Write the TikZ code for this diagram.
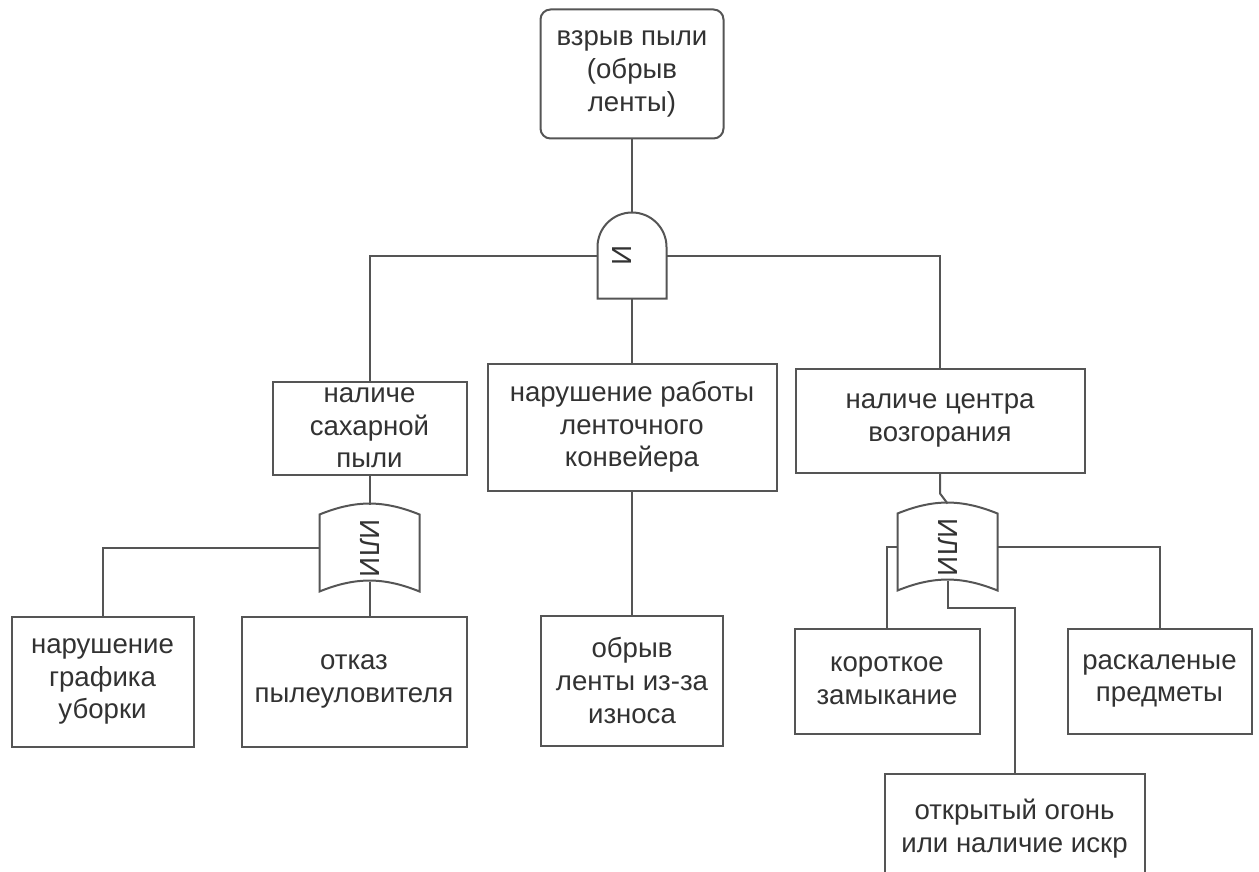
\documentclass[tikz,border=0pt]{standalone}
\usepackage{fontspec}
\setmainfont{Liberation Sans}
\usetikzlibrary{positioning}
\definecolor{linegray}{RGB}{85,85,85}
\definecolor{textgray}{RGB}{50,50,50}

\begin{document}
\begin{tikzpicture}[
    x=0.5pt, y=0.5pt,
    every node/.style={font=\fontsize{13.8}{16.3}\selectfont, text=textgray,
        align=center, inner sep=0pt, outer sep=0pt},
    topevent/.style={draw=linegray, line width=1pt, rounded corners=5pt,
        minimum width=91.5pt, minimum height=64.5pt},
    event/.style={draw=linegray, line width=1pt},
    andbox/.style={minimum width=34.5pt, minimum height=43pt},
    orbox/.style={minimum width=50pt, minimum height=43.5pt},
    gatelabel/.style={rotate=-90},
    gateline/.style={draw=linegray, line width=1pt},
    edge/.style={draw=linegray, line width=1pt}
]
\useasboundingbox (0,0) rectangle (1259,-872);
\clip (0,0) rectangle (1259,-872);

% top event and the AND gate
\node[topevent] (root) at (632,-74) {взрыв пыли\\(обрыв\\ленты)};
\node[andbox, below=37pt of root,
    label={[gatelabel, yshift=-5pt]center:И}] (andg) {};

% second level
\node[event, minimum width=144.5pt, minimum height=63.5pt, below=32.5pt of andg]
    (conv) {нарушение работы\\ленточного\\конвейера};
\node[event, minimum width=97pt, minimum height=46.5pt, left=10.5pt of conv,
    yshift=-0.5pt] (sugar) {наличе\\сахарной\\пыли};
\node[event, minimum width=144.5pt, minimum height=52pt, right=9.5pt of conv,
    yshift=3.25pt] (fire) {наличе центра\\возгорания};

% OR gates
\node[orbox, below=15pt of sugar, label={[gatelabel]center:ИЛИ}] (orA) {};
\node[orbox, below=15.5pt of fire, xshift=3.75pt,
    label={[gatelabel]center:ИЛИ}] (orB) {};

% basic events
\node[event, minimum width=112.5pt, minimum height=65pt, below=12.5pt of orA,
    xshift=-7.75pt] (filter) {отказ\\пылеуловителя};
\node[event, minimum width=91pt, minimum height=65pt, left=24pt of filter]
    (clean) {нарушение\\графика\\уборки};
\node[event, minimum width=91pt, minimum height=65pt, below=62.5pt of conv]
    (wear) {обрыв\\ленты из-за\\износа};
\node[event, minimum width=92.5pt, minimum height=52.5pt, below=19pt of orB,
    xshift=-30.25pt] (short) {короткое\\замыкание};
\node[event, minimum width=92pt, minimum height=52.5pt, right=44pt of short]
    (hot) {раскаленые\\предметы};
\node[event, minimum width=130pt, minimum height=55pt, below=20pt of short,
    xshift=63.75pt] (fire2) {открытый огонь\\или наличие искр};

% gate outlines
\draw[gateline] (andg.south west) -- ++(0,51.5)
    arc[start angle=180, end angle=0, radius=34.5] -- (andg.south east) -- cycle;
\foreach \g in {orA,orB}
    \draw[gateline] ([yshift=-5pt]\g.north west) to[bend left=22]
        ([yshift=-5pt]\g.north east) -- (\g.south east)
        to[bend right=22] (\g.south west) -- cycle;

% connectors
\draw[edge] (root) -- (andg.north);
\draw[edge] (andg.west) -| (sugar.north);
\draw[edge] (andg.east) -| (fire.north);
\draw[edge] (andg.south) -- (conv.north);
\draw[edge] (sugar) -- (orA.north);
\draw[edge] (orA.west) -| (clean.north);
\draw[edge] ([yshift=5pt]orA.south) -- (orA.south |- filter.north);
\draw[edge] (conv.south) -- (conv.south |- wear.north);
\draw[edge] (fire.south) -- ++(0,-21) -- (orB.north);
\draw[edge] (orB.west) -| (short.north);
\draw[edge] (orB.east) -| (hot.north);
\draw[edge] ([yshift=5pt]orB.south) -- ++(0,-27) -| (fire2.north);
\end{tikzpicture}
\end{document}
